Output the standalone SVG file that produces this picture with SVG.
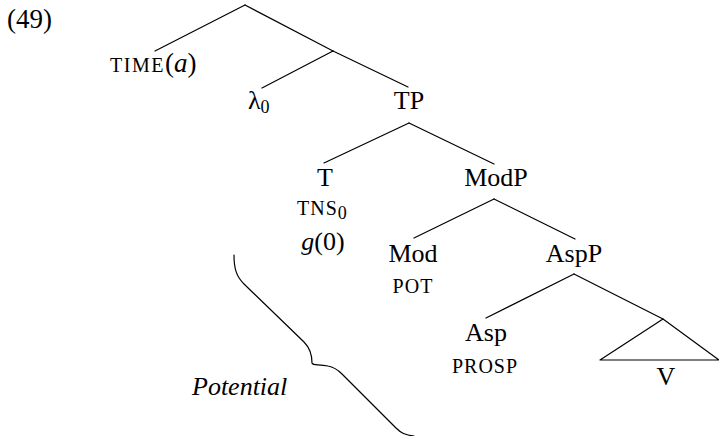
<svg xmlns="http://www.w3.org/2000/svg" width="719" height="436" viewBox="0 0 719 436">
<style>
.lbl { font-size: 26px; text-anchor: middle; }
.sc { font-size: 20px; text-anchor: middle; letter-spacing: 1px; }
.sub { font-size: 18px; }
.it { font-style: italic; }
.edge { stroke: #000; stroke-width: 1.2; fill: none; stroke-linecap: round; }
</style>
<rect width="719" height="436" fill="#fff"/>
<text id="exnum" x="7" y="28" font-size="27" font-family="Liberation Serif">(49)</text>
<g id="connectors">
  <line class="edge" x1="245" y1="5" x2="155" y2="51"/>
  <line class="edge" x1="245" y1="5" x2="333" y2="51"/>
  <line class="edge" x1="333" y1="51" x2="408" y2="87"/>
  <line class="edge" x1="333" y1="51" x2="262" y2="88"/>
  <line class="edge" x1="409" y1="123" x2="324" y2="163"/>
  <line class="edge" x1="409" y1="123" x2="494" y2="164"/>
  <line class="edge" x1="494" y1="199" x2="414" y2="238"/>
  <line class="edge" x1="494" y1="199" x2="575" y2="239"/>
  <line class="edge" x1="574" y1="274" x2="486" y2="318"/>
  <line class="edge" x1="574" y1="274" x2="663" y2="319"/>
</g>
<g id="node-time">
  <text x="110" y="72" font-family="Liberation Serif"><tspan font-size="20" letter-spacing="1.5">TIME</tspan><tspan font-size="27">(</tspan><tspan class="it" font-size="27">a</tspan><tspan font-size="27">)</tspan></text>
</g>
<g id="node-lambda">
  <text x="248" y="109" font-size="26" font-family="Liberation Serif">λ<tspan class="sub" dy="4">0</tspan></text>
</g>
<g id="node-TP">
  <text class="lbl" x="409" y="109" font-family="Liberation Serif">TP</text>
</g>
<g id="node-T">
  <text class="lbl" x="325" y="186" font-family="Liberation Serif">T</text>
  <text x="297" y="215" font-family="Liberation Serif"><tspan font-size="20" letter-spacing="1">TNS</tspan><tspan class="sub" dy="4">0</tspan></text>
  <text class="lbl" x="323" y="250" font-family="Liberation Serif"><tspan class="it">g</tspan>(0)</text>
</g>
<g id="node-ModP">
  <text class="lbl" x="496" y="186" font-family="Liberation Serif" font-size="27">ModP</text>
</g>
<g id="node-Mod">
  <text class="lbl" x="413" y="262" font-family="Liberation Serif">Mod</text>
  <text class="sc" x="413" y="293" font-family="Liberation Serif">POT</text>
</g>
<g id="node-AspP">
  <text class="lbl" x="574" y="262" font-family="Liberation Serif">AspP</text>
</g>
<g id="node-Asp">
  <text class="lbl" x="486" y="341" font-family="Liberation Serif">Asp</text>
  <text class="sc" x="485" y="373" font-family="Liberation Serif" font-size="21">PROSP</text>
</g>
<g id="node-V">
  <polygon points="663,319 600,360 719,360" fill="none" stroke="#000" stroke-width="1.2" stroke-linejoin="round"/>
  <text class="lbl" x="666" y="385" font-family="Liberation Serif">V</text>
</g>
<g id="brace">
  <path class="edge" d="M234,255 C234,268 236,276 244,284 L304,342 C310,348 312,354 312,363 C313,366 318,364 328,366 C334,367 338,370 342,374 L396,428 C401,433 405,435 414,436"/>
  <text x="192" y="395" class="it" font-size="26" font-family="Liberation Serif">Potential</text>
</g>
</svg>
